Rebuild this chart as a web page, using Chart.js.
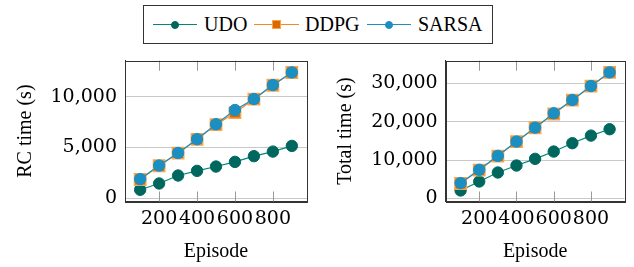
<!DOCTYPE html>
<html>
<head>
<meta charset="utf-8">
<script src="https://cdn.jsdelivr.net/npm/chart.js@4.4.1/dist/chart.umd.min.js"></script>
<style>
  html, body { margin: 0; padding: 0; background: #fff; }
  body { width: 634px; height: 267px; position: relative; overflow: hidden; font-family: "Liberation Serif", serif; }
  canvas { position: absolute; }
  #legend { position: absolute; left: 143px; top: 5px; width: 348px; height: 37px; border: 1px solid #333; box-sizing: content-box; }
  .ln { position: absolute; height: 0; border-top: 1.2px solid; }
  .mk { position: absolute; box-sizing: border-box; }
  .lt { position: absolute; font-size: 20px; line-height: 20px; color: #000; white-space: nowrap; }
</style>
</head>
<body>
<div id="legend"></div>
<canvas id="c1" width="320" height="217" style="left:0px;top:50px"></canvas>
<canvas id="c2" width="314" height="217" style="left:320px;top:50px"></canvas>
<script>
// ---- data ----
const episodes = [100, 200, 300, 400, 500, 600, 700, 800, 900];
const xTicks = [200, 400, 600, 800];

const rcUDO   = [835, 1454, 2240, 2700, 3124, 3585, 4145, 4597, 5157];
const rcDDPG  = [1850, 3200, 4440, 5800, 7250, 8430, 9760, 11130, 12390];
const rcSARSA = [1886, 3222, 4460, 5815, 7290, 8690, 9774, 11149, 12397];
const rcTicks = [0, 5000, 10000];

const totUDO   = [2080, 4420, 6760, 8580, 10320, 12220, 14400, 16380, 18040];
const totDDPG  = [3900, 7400, 11050, 14800, 18420, 22000, 25620, 29250, 32850];
const totSARSA = [4000, 7460, 11100, 14820, 18460, 22200, 25660, 29300, 32860];
const totTicks = [0, 10000, 20000, 30000];

const seriesNames = ['UDO', 'DDPG', 'SARSA'];

// ---- styles ----
const COL = {
  UDO:   { line: '#00877a', fill: '#00675e', border: '#00675e' },
  DDPG:  { line: '#f28a1e', fill: '#d96a00', border: '#f7a54e' },
  SARSA: { line: '#1d8fbf', fill: '#1b8ec2', border: '#1b8ec2' }
};
const TXT = '"Liberation Serif", serif';
const NUM = '"DejaVu Serif", serif';

// ---- legend (HTML text) ----
(function () {
  const lg = document.getElementById('legend');
  const items = [
    { name: 'UDO',   x0: 9,   x1: 53,  mx: 31,  shape: 'circle', size: 8 },
    { name: 'DDPG',  x0: 110, x1: 155, mx: 132, shape: 'square', size: 9 },
    { name: 'SARSA', x0: 223, x1: 267, mx: 245, shape: 'circle', size: 8 }
  ];
  const tx = [60, 161, 274];
  items.forEach((it, i) => {
    const c = COL[it.name];
    const l = document.createElement('div');
    l.className = 'ln';
    l.style.left = it.x0 + 'px'; l.style.width = (it.x1 - it.x0) + 'px';
    l.style.top = '18px'; l.style.borderColor = c.line;
    lg.appendChild(l);
    const m = document.createElement('div');
    m.className = 'mk';
    m.style.width = it.size + 'px'; m.style.height = it.size + 'px';
    m.style.left = (it.mx - it.size / 2) + 'px';
    m.style.top = (18.6 - it.size / 2) + 'px';
    m.style.background = c.fill;
    m.style.border = '1px solid ' + c.border;
    if (it.shape === 'circle') m.style.borderRadius = '50%';
    lg.appendChild(m);
    const t = document.createElement('div');
    t.className = 'lt';
    t.style.left = tx[i] + 'px'; t.style.top = '7.5px';
    t.textContent = it.name;
    lg.appendChild(t);
  });
})();

// ---- plugin: full frame + inward x ticks ----
const framePlugin = {
  id: 'frame',
  beforeDatasetsDraw(chart) {
    const { ctx, chartArea: a, scales } = chart;
    ctx.save();
    ctx.strokeStyle = '#999';
    ctx.lineWidth = 1;
    xTicks.forEach(v => {
      const px = Math.round(scales.x.getPixelForValue(v)) + 0.5;
      ctx.beginPath();
      ctx.moveTo(px, a.top); ctx.lineTo(px, a.top + 10);
      ctx.moveTo(px, a.bottom); ctx.lineTo(px, a.bottom - 10);
      ctx.stroke();
    });
    ctx.restore();
  },
  afterDraw(chart) {
    const { ctx, chartArea: a } = chart;
    ctx.save();
    ctx.strokeStyle = '#333';
    ctx.lineWidth = 1;
    ctx.strokeRect(Math.round(a.left) + 0.5, Math.round(a.top) + 0.5,
                   Math.round(a.right - a.left), Math.round(a.bottom - a.top));
    ctx.restore();
  }
};

function zeroPad(sc) {
  sc.paddingTop = 0; sc.paddingBottom = 0; sc.paddingLeft = 0; sc.paddingRight = 0;
}

function ds(name, data) {
  const c = COL[name];
  const isSq = name === 'DDPG';
  return {
    label: name,
    data: episodes.map((e, i) => ({ x: e, y: data[i] })),
    borderColor: c.line,
    borderWidth: 1.2,
    backgroundColor: c.fill,
    pointBackgroundColor: c.fill,
    pointBorderColor: c.border,
    pointBorderWidth: isSq ? 1.5 : 1,
    pointRadius: isSq ? 8 : 5.7,
    pointStyle: isSq ? 'rect' : 'circle',
    order: name === 'SARSA' ? 0 : (name === 'DDPG' ? 1 : 2),
    tension: 0
  };
}

function makeChart(id, title, u, d, s, yTicks, ymin, ymax, yWidth, padRight) {
  return new Chart(document.getElementById(id), {
    type: 'line',
    data: { datasets: [ds('UDO', u), ds('DDPG', d), ds('SARSA', s)] },
    options: {
      responsive: false,
      animation: false,
      devicePixelRatio: 1,
      layout: { padding: { top: 10.7, right: padRight, bottom: 0, left: 0 } },
      plugins: { legend: { display: false }, tooltip: { enabled: false } },
      scales: {
        x: {
          type: 'linear', min: 20, max: 980,
          afterBuildTicks: sc => { sc.ticks = xTicks.map(v => ({ value: v })); },
          afterFit: sc => { sc.height = 65.5; zeroPad(sc); },
          grid: { display: false, drawTicks: false },
          border: { display: true, color: '#333', width: 1 },
          ticks: { autoSkip: false, maxRotation: 0, padding: 6, color: '#000',
                   font: { family: NUM, size: 19 }, callback: v => String(v) },
          title: { display: true, text: 'Episode', color: '#000',
                   font: { family: TXT, size: 20 }, padding: { top: 0, bottom: 3.5 } }
        },
        y: {
          type: 'linear', min: ymin, max: ymax,
          afterBuildTicks: sc => { sc.ticks = yTicks.map(v => ({ value: v })); },
          afterFit: sc => { sc.width = yWidth; zeroPad(sc); },
          grid: { color: '#c8c8c8', lineWidth: 1, drawTicks: false },
          border: { display: true, color: '#333', width: 1 },
          ticks: { padding: 8, color: '#000', font: { family: NUM, size: 19 },
                   callback: v => v.toLocaleString('en-US') },
          title: { display: true, text: title, color: '#000',
                   font: { family: TXT, size: 20 }, padding: { top: 13.5, bottom: 0 } }
        }
      }
    },
    plugins: [framePlugin]
  });
}

makeChart('c1', 'RC time (s)', rcUDO, rcDDPG, rcSARSA, rcTicks, -320, 13550, 125, 13);
makeChart('c2', 'Total time (s)', totUDO, totDDPG, totSARSA, totTicks, -800, 35900, 125.7, 6.7);
</script>
</body>
</html>
